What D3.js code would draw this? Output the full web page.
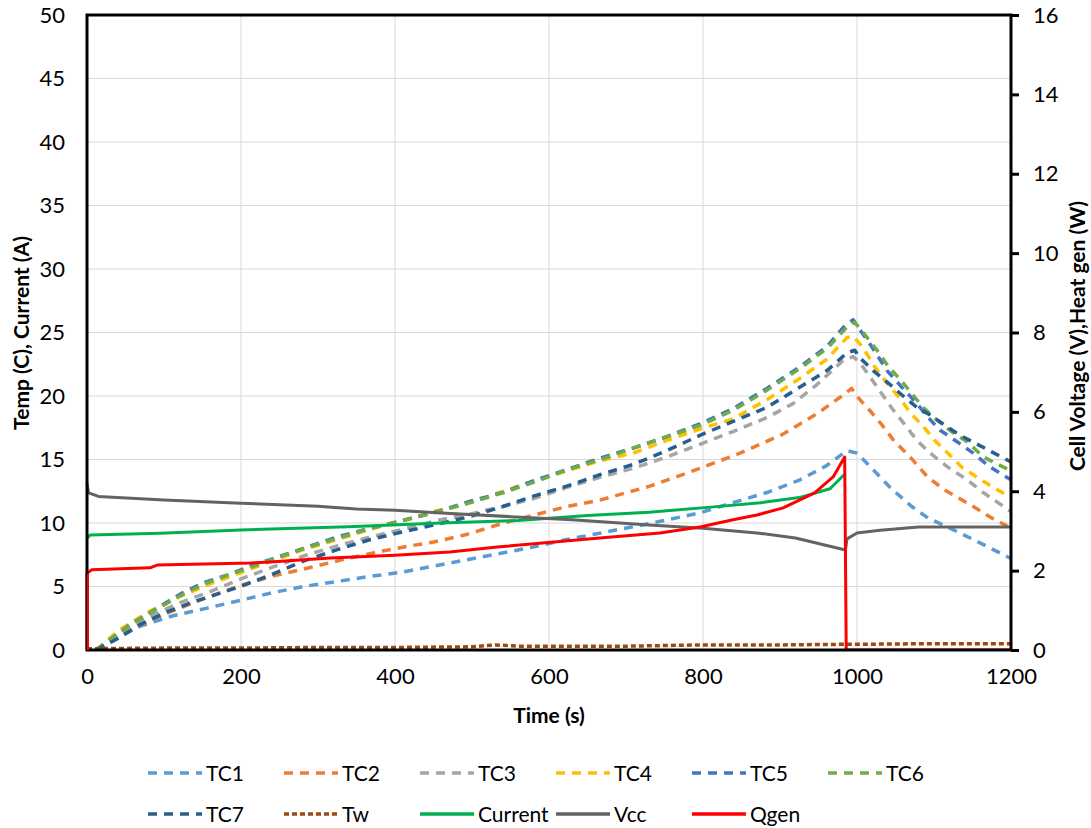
<!DOCTYPE html>
<html>
<head>
<meta charset="utf-8">
<script src="https://cdn.jsdelivr.net/npm/d3@7"></script>
<style>
  body { margin: 0; background: #fff; }
  text { font-family: Lato, "Open Sans", sans-serif; fill: #000; }
</style>
</head>
<body>
<svg id="chart" width="1091" height="828"></svg>
<script>
// series: [time (s), value]
// left axis: temperatures and current, right axis: voltage and heat
const tc1 = [[12,0],[30,0.6],[47,1.2],[70,1.9],[112,2.7],[156,3.3],[199,3.9],[240,4.5],[281,5.0],[325,5.4],[368,5.8],[406,6.1],[450,6.6],[493,7.1],[536,7.6],[579,8.1],[623,8.7],[666,9.2],[709,9.7],[750,10.2],[796,10.8],[839,11.6],[883,12.4],[926,13.4],[960,14.5],[987,15.7],[1000,15.5],[1021,14.2],[1043,12.8],[1071,11.3],[1092,10.4],[1117,9.7],[1151,8.7],[1200,7.2]]
const tc2 = [[12,0],[40,1.0],[70,2.0],[100,2.8],[150,4.0],[200,5.1],[240,5.8],[290,6.5],[338,7.2],[384,7.8],[420,8.2],[450,8.5],[493,9.1],[536,9.9],[579,10.6],[623,11.3],[666,11.8],[731,12.9],[796,14.3],[848,15.5],[904,17.0],[948,18.6],[978,19.9],[993,20.6],[1001,19.9],[1019,18.7],[1034,17.6],[1049,16.4],[1069,15.2],[1092,13.6],[1114,12.6],[1151,11.3],[1175,10.4],[1200,9.6]]
const tc3 = [[12,0],[40,1.3],[80,2.6],[120,3.7],[160,4.6],[200,5.6],[240,6.5],[281,7.4],[325,8.2],[368,8.9],[410,9.5],[455,10.2],[497,10.7],[540,11.3],[579,11.9],[623,12.8],[666,13.6],[709,14.3],[753,15.2],[796,16.2],[839,17.2],[883,18.3],[917,19.4],[948,20.9],[982,22.8],[995,23.1],[1004,22.6],[1017,21.5],[1032,20.2],[1047,18.9],[1060,17.9],[1078,16.5],[1095,15.5],[1118,14.4],[1143,13.4],[1164,12.4],[1200,10.9]]
const tc4 = [[12,0],[40,1.5],[80,3.0],[120,4.2],[160,5.2],[200,6.1],[240,7.0],[281,7.9],[325,8.7],[368,9.5],[410,10.2],[450,10.9],[493,11.5],[536,12.4],[579,13.3],[623,14.1],[666,14.9],[709,15.5],[753,16.5],[796,17.4],[839,18.2],[883,19.7],[926,21.4],[961,22.9],[987,24.6],[995,24.7],[1008,23.8],[1023,22.3],[1039,21.0],[1056,19.8],[1069,18.7],[1086,17.6],[1101,16.5],[1118,15.5],[1136,14.4],[1156,13.6],[1177,12.8],[1200,12.0]]
const tc5 = [[12,0],[34,1.0],[56,2.0],[86,3.1],[121,4.4],[151,5.3],[182,5.9],[216,6.7],[242,7.2],[281,8.0],[325,8.9],[368,9.6],[410,10.2],[455,10.9],[497,11.7],[540,12.4],[579,13.3],[623,14.2],[666,15.1],[709,15.9],[753,16.8],[796,17.8],[839,19.0],[883,20.6],[926,22.3],[961,23.9],[985,25.6],[995,26.0],[1004,25.2],[1019,23.9],[1039,22.0],[1058,20.7],[1078,19.4],[1091,18.4],[1108,17.3],[1130,16.4],[1151,15.5],[1173,14.4],[1200,13.4]]
const tc6 = [[12,0],[35,1.0],[57,2.0],[87,3.1],[122,4.3],[152,5.2],[183,5.9],[217,6.6],[243,7.2],[282,8.0],[326,8.8],[369,9.6],[411,10.2],[456,10.9],[498,11.6],[541,12.4],[580,13.2],[624,14.2],[667,15.0],[710,15.9],[754,16.8],[797,17.7],[840,18.9],[884,20.5],[927,22.2],[962,23.8],[988,25.5],[997,25.8],[1008,25.0],[1026,23.6],[1041,22.3],[1056,21.3],[1071,20.2],[1086,19.1],[1104,18.1],[1125,17.1],[1143,16.4],[1164,15.2],[1200,14.1]]
const tc7 = [[12,0],[40,0.9],[69,2.0],[104,3.0],[134,3.7],[164,4.3],[199,5.0],[242,6.0],[281,7.0],[325,7.9],[368,8.7],[410,9.3],[455,9.9],[497,10.5],[540,11.3],[579,12.1],[623,12.9],[666,13.8],[709,14.6],[753,15.7],[796,16.9],[839,18.0],[883,19.1],[926,20.7],[961,22.0],[987,23.4],[997,23.6],[1004,23.0],[1021,22.0],[1041,21.0],[1058,20.1],[1078,19.1],[1095,18.5],[1114,17.7],[1134,16.9],[1153,16.3],[1175,15.6],[1200,14.8]]
const tw = [[0,0.1],[100,0.15],[200,0.15],[300,0.2],[400,0.2],[500,0.25],[530,0.4],[560,0.3],[600,0.3],[700,0.3],[800,0.4],[900,0.4],[985,0.45],[1000,0.45],[1100,0.5],[1200,0.5]]
const current = [[0,8.8],[4,9.05],[95,9.2],[200,9.45],[340,9.7],[460,10.0],[560,10.2],[650,10.6],[730,10.85],[810,11.25],[875,11.6],[925,12.0],[965,12.7],[985,13.9]]
const vcc = [[0,4.21],[2,3.96],[15,3.87],[100,3.78],[200,3.70],[300,3.62],[350,3.55],[400,3.52],[460,3.45],[550,3.36],[630,3.28],[730,3.15],[800,3.07],[870,2.95],[920,2.82],[985,2.52],[987,2.80],[1000,2.95],[1030,3.02],[1080,3.10],[1200,3.10]]
const qgen = [[0,0],[0,1.93],[6,2.02],[82,2.07],[91,2.14],[212,2.19],[238,2.22],[316,2.32],[400,2.39],[471,2.47],[536,2.6],[666,2.82],[744,2.95],[796,3.1],[839,3.28],[870,3.4],[904,3.58],[945,3.96],[969,4.36],[984,4.86],[986,0],[1200,0]]

const xTicks = d3.range(0, 1201, 200)
const leftTicks = d3.range(0, 51, 5)
const rightTicks = d3.range(0, 17, 2)

const series = [
  {name: 'TC1', data: tc1, axis: 'L', color: '#5B9BD5', dash: '9,7'},
  {name: 'TC2', data: tc2, axis: 'L', color: '#ED7D31', dash: '9,7'},
  {name: 'TC3', data: tc3, axis: 'L', color: '#A5A5A5', dash: '9,7'},
  {name: 'TC4', data: tc4, axis: 'L', color: '#FFC000', dash: '9,7'},
  {name: 'TC5', data: tc5, axis: 'L', color: '#4472C4', dash: '9,7'},
  {name: 'TC6', data: tc6, axis: 'L', color: '#70AD47', dash: '9,7'},
  {name: 'TC7', data: tc7, axis: 'L', color: '#255E91', dash: '9,7'},
  {name: 'Tw', data: tw, axis: 'L', color: '#9E480E', dash: '5,3'},
  {name: 'Current', data: current, axis: 'L', color: '#00B050', dash: null},
  {name: 'Vcc', data: vcc, axis: 'R', color: '#636363', dash: null},
  {name: 'Qgen', data: qgen, axis: 'R', color: '#FF0000', dash: null}
]

const svg = d3.select('#chart')
const mLeft = 87, mRight = 1011, mTop = 15, mBottom = 650

const x = d3.scaleLinear().domain([0, 1200]).range([mLeft, mRight])
const yL = d3.scaleLinear().domain([0, 50]).range([mBottom, mTop])
const yR = d3.scaleLinear().domain([0, 16]).range([mBottom, mTop])

// grid
svg.append('g')
  .selectAll('line').data(leftTicks.slice(1)).join('line')
    .attr('x1', mLeft).attr('x2', mRight)
    .attr('y1', d => yL(d)).attr('y2', d => yL(d))
    .attr('stroke', '#d9d9d9').attr('stroke-width', 1)
svg.append('g')
  .selectAll('line').data(xTicks.slice(1, -1)).join('line')
    .attr('x1', d => x(d)).attr('x2', d => x(d))
    .attr('y1', mTop).attr('y2', mBottom)
    .attr('stroke', '#d9d9d9').attr('stroke-width', 1)

svg.append('defs').append('clipPath').attr('id', 'plot')
  .append('rect').attr('x', mLeft - 2).attr('y', mTop).attr('width', mRight - mLeft + 4).attr('height', mBottom - mTop)

// lines
const g = svg.append('g').attr('clip-path', 'url(#plot)')
series.forEach(s => {
  const y = s.axis === 'L' ? yL : yR
  g.append('path')
    .datum(s.data)
    .attr('fill', 'none')
    .attr('stroke', s.color)
    .attr('stroke-width', s.dash ? 3.5 : 3)
    .attr('stroke-dasharray', s.dash)
    .attr('stroke-linejoin', 'round')
    .attr('d', d3.line().x(d => x(d[0])).y(d => y(d[1])))
})

// axes
const fmt = d3.format('d')
const axisL = svg.append('g')
  .attr('transform', 'translate(' + mLeft + ',0)')
  .call(d3.axisLeft(yL).tickValues(leftTicks).tickFormat(fmt).tickSize(0).tickPadding(22))
const axisB = svg.append('g')
  .attr('transform', 'translate(0,' + mBottom + ')')
  .call(d3.axisBottom(x).tickValues(xTicks).tickFormat(fmt).tickSize(0).tickPadding(18))
const axisR = svg.append('g')
  .attr('transform', 'translate(' + mRight + ',0)')
  .call(d3.axisRight(yR).tickValues(rightTicks).tickFormat(fmt).tickSize(8).tickPadding(14))
;[axisL, axisB, axisR].forEach(a => {
  a.select('.domain').remove()
  a.selectAll('text').style('font-size', '22px').style('font-family', 'Lato, sans-serif').attr('fill', '#000')
})
axisR.selectAll('line').attr('stroke', '#000').attr('stroke-width', 3)

// plot border
svg.append('rect')
  .attr('x', mLeft).attr('y', mTop).attr('width', mRight - mLeft).attr('height', mBottom - mTop)
  .attr('fill', 'none').attr('stroke', '#000').attr('stroke-width', 3)

// redraw Qgen start over the border
svg.append('path')
  .datum(qgen.slice(0, 2))
  .attr('stroke', '#FF0000').attr('stroke-width', 2)
  .attr('d', d3.line().x(d => x(d[0]) + 1).y(d => yR(d[1])))

// axis titles
svg.append('text')
  .attr('x', 549).attr('y', 723)
  .attr('text-anchor', 'middle').style('font-size', '21px').style('font-weight', 'bold')
  .text('Time (s)')
svg.append('text')
  .attr('transform', 'translate(29,333) rotate(-90)')
  .attr('text-anchor', 'middle').style('font-size', '21px').style('font-weight', 'bold')
  .text('Temp (C), Current (A)')
svg.append('text')
  .attr('transform', 'translate(1085,336) rotate(-90)')
  .attr('text-anchor', 'middle').style('font-size', '21px').style('font-weight', 'bold')
  .text('Cell Voltage (V),Heat gen (W)')

// legend
const legend = svg.append('g')
series.forEach((s, i) => {
  const col = i % 6, row = Math.floor(i / 6)
  const lx = 148 + col * 136, ly = 773 + row * 41
  legend.append('line')
    .attr('x1', lx).attr('x2', lx + 54).attr('y1', ly).attr('y2', ly)
    .attr('stroke', s.color).attr('stroke-width', 3.5)
    .attr('stroke-dasharray', s.dash)
  legend.append('text')
    .attr('x', lx + 58).attr('y', ly + 8)
    .style('font-size', '21px')
    .text(s.name)
})
</script>
</body>
</html>
